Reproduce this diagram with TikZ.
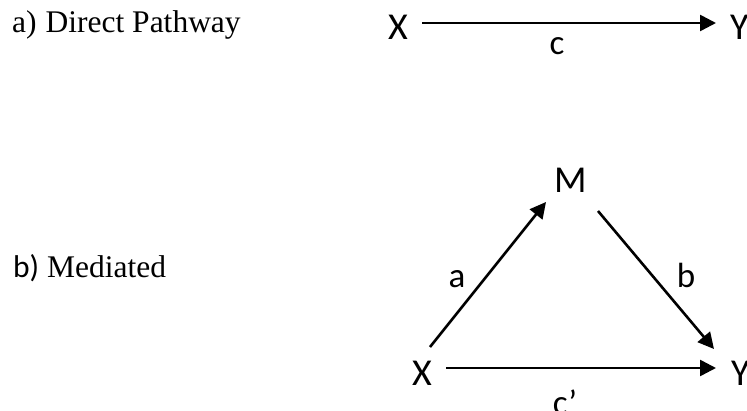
\documentclass[tikz,border=0pt]{standalone}
\usepackage{fontspec}
\setmainfont{Liberation Serif}
\newfontfamily\calfont{Carlito}
\usetikzlibrary{arrows.meta}
\begin{document}
\begin{tikzpicture}[x=1pt,y=-1pt,
  var/.style={font=\calfont\fontsize{38}{42}\selectfont, inner sep=0pt, anchor=base west},
  lbl/.style={font=\calfont\fontsize{35}{39}\selectfont, inner sep=0pt, anchor=base},
  titletext/.style={font=\fontsize{31.5}{34}\selectfont, inner sep=0pt, anchor=base west},
  arr/.style={line width=2.6pt, -{Triangle[length=16pt,width=16pt]}}]
\useasboundingbox (0,0) rectangle (747,411);
\clip (0,0) rectangle (747,411);
% titles
\node[titletext] (ta) at (12,33) {a)\hspace{9pt}Direct Pathway};
\node[titletext] (tb) at (13,278) {{\calfont b)} Mediated};
% a) direct pathway
\node[var] (X1) at (388,40) {X};
\node[var] (Y1) at (730,40) {Y};
\coordinate (s1) at (422,23);
\coordinate (e1) at (716,23);
\draw[arr] (s1) -- (e1);
\node[lbl] (c) at (557,55) {c};
% b) mediated
\node[var] (M) at (554,193) {M};
\node[var] (X2) at (412,386) {X};
\node[var] (Y2) at (731,386) {Y};
\coordinate (sa) at (430,347);
\coordinate (ea) at (546,202);
\coordinate (sb) at (598,211);
\coordinate (eb) at (714,349);
\coordinate (sc) at (446,368);
\coordinate (ec) at (716,368);
\draw[arr] (sa) -- (ea);
\draw[arr] (sb) -- (eb);
\draw[arr] (sc) -- (ec);
\node[lbl] (a) at (457,288) {a};
\node[lbl] (b) at (686,288) {b};
\node[lbl] (cp) at (565,414) {c\kern0.5pt’};
\end{tikzpicture}
\end{document}
